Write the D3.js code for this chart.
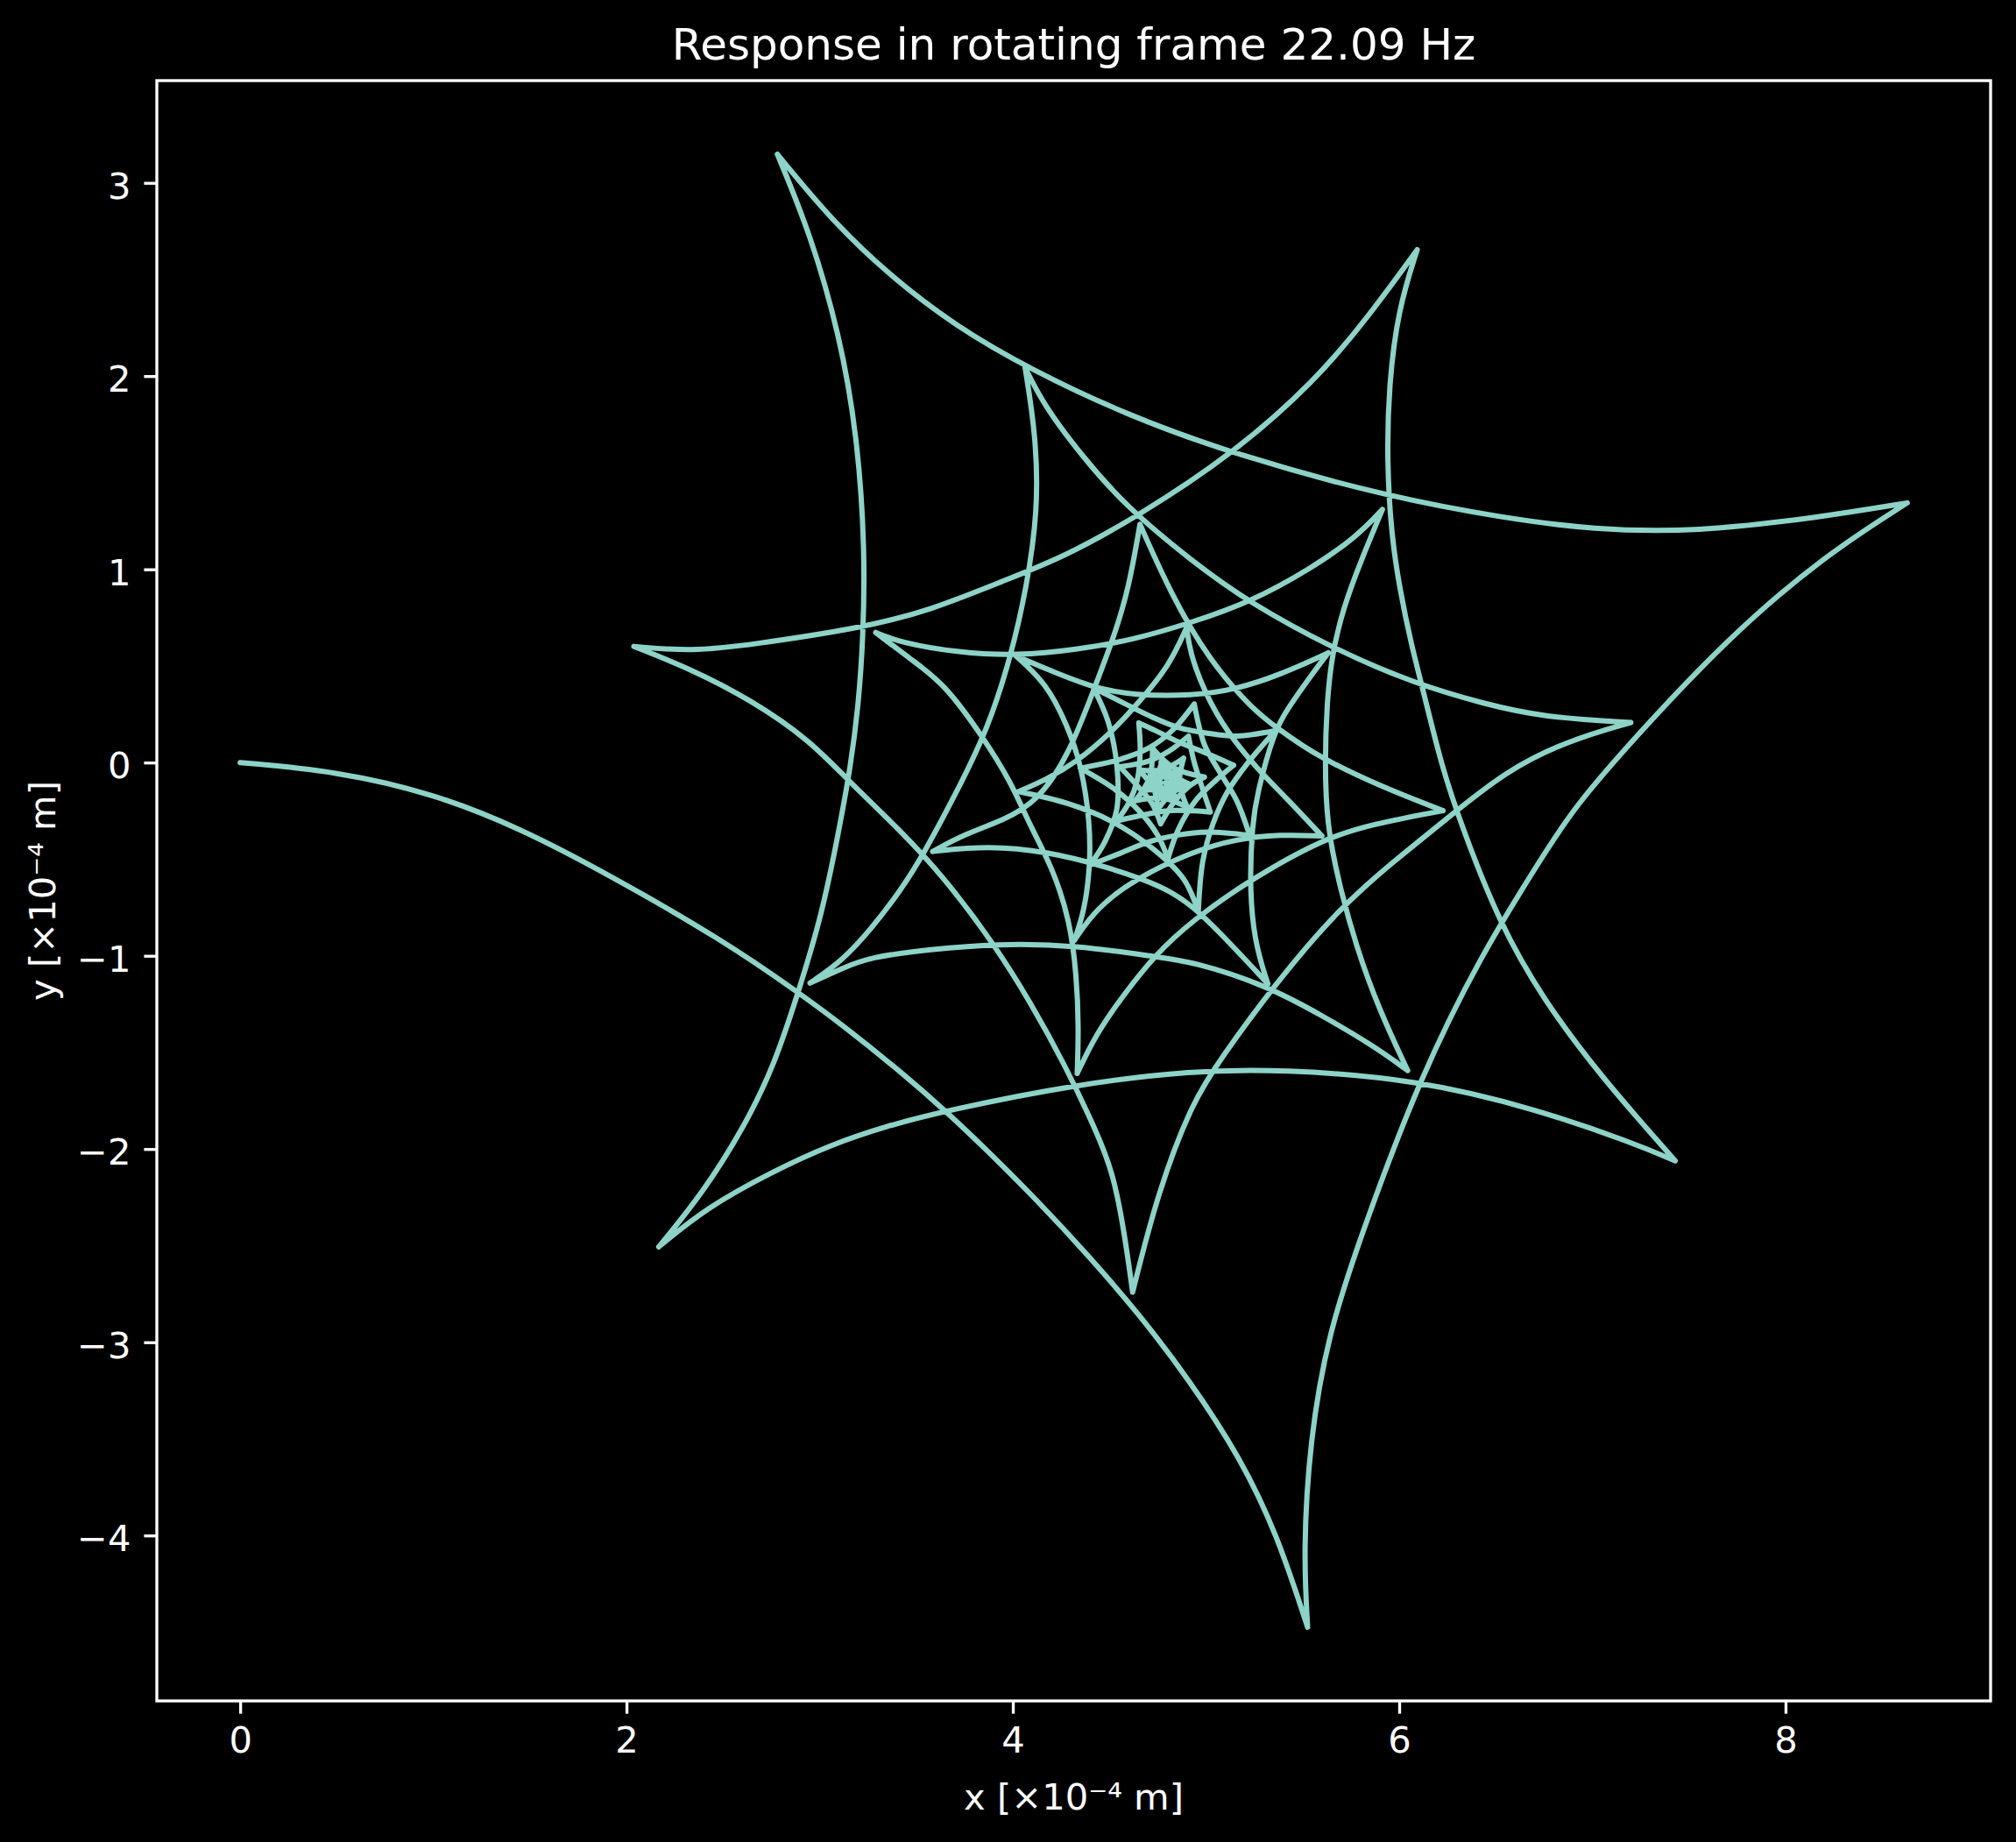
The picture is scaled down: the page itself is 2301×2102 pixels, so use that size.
<!DOCTYPE html>
<html>
<head>
<meta charset="utf-8">
<script src="https://cdn.jsdelivr.net/npm/d3@7"></script>
<style>
  body { margin: 0; background: #000; }
  text { font-family: "DejaVu Sans", sans-serif; fill: #fff; }
</style>
</head>
<body>
<svg width="2301" height="2102"></svg>
<script>
// ---- data (units of 1e-4 m) ----
var titleText = "Response in rotating frame 22.09 Hz",
    xLabel = "x [×10⁻⁴ m]",
    yLabel = "y [×10⁻⁴ m]";

var xTicks = [0, 2, 4, 6, 8],
    xTickLabels = ["0", "2", "4", "6", "8"],
    yTicks = [-4, -3, -2, -1, 0, 1, 2, 3],
    yTickLabels = ["−4", "−3", "−2", "−1", "0", "1", "2", "3"];

var startPoint = [0, 0];

// every arc runs from the previous cusp to the next one (last point = cusp)
var outerArcs = [
  [[0.5,-0.045],[1.0,-0.16],[1.45,-0.34],[1.9,-0.575],[2.5,-0.92],[2.89,-1.19],[3.12,-1.36],[3.42,-1.6],[3.66,-1.81],[3.87,-2.01],[4.13,-2.27],[4.39,-2.55],[4.65,-2.85],[4.91,-3.19],[5.18,-3.6],[5.37,-4.0],[5.526,-4.475]],
  [[5.504,-4.09],[5.536,-3.514],[5.634,-2.941],[5.831,-2.368],[6.1,-1.65],[6.42,-1.0],[6.744,-0.483],[6.9,-0.24],[7.206,0.115],[7.697,0.64],[8.188,1.061],[8.63,1.344]],
  [[8.188,1.271],[7.533,1.192],[7.0,1.205],[6.551,1.265],[5.962,1.37],[5.143,1.595],[4.587,1.8],[4.1,2.03],[3.7,2.26],[3.35,2.53],[3.05,2.82],[2.781,3.148]],
  [[2.95,2.741],[3.103,2.216],[3.195,1.691],[3.235,1.1],[3.225,0.64],[3.2,0.29],[3.16,-0.02],[3.1,-0.35],[3.011,-0.792],[2.888,-1.193],[2.765,-1.566],[2.612,-1.881],[2.397,-2.225],[2.167,-2.506]],
  [[2.42,-2.3],[2.75,-2.12],[3.05,-1.98],[3.35,-1.88],[3.655,-1.8],[4.326,-1.665],[4.93,-1.594],[5.384,-1.587],[6.094,-1.64],[6.715,-1.795],[7.206,-1.967],[7.429,-2.061]],
  [[7.042,-1.623],[6.744,-1.224],[6.518,-0.831],[6.32,-0.32],[6.22,-0.02],[6.13,0.35],[6.06,0.62],[6.004,0.893],[5.96,1.17],[5.936,1.559],[5.946,1.953],[5.995,2.347],[6.093,2.654]],
  [[5.831,2.295],[5.569,1.98],[5.143,1.599],[4.64,1.27],[4.259,1.061],[3.95,0.94],[3.57,0.787],[3.226,0.698],[2.643,0.609],[2.336,0.575],[2.038,0.601]],
  [[2.336,0.483],[2.643,0.325],[2.95,0.115],[3.149,-0.095],[3.41,-0.344],[3.64,-0.589],[3.902,-0.937],[4.099,-1.254],[4.265,-1.556],[4.431,-1.904],[4.522,-2.131],[4.58,-2.45],[4.62,-2.741]],
  [[4.75,-2.225],[4.93,-1.753],[5.081,-1.526],[5.338,-1.171],[5.686,-0.755],[5.988,-0.498],[6.215,-0.317],[6.551,-0.042],[6.878,0.115],[7.199,0.207]]
];

var middleArcs = [
  [[6.744,0.235],[6.442,0.303],[6.079,0.409],[5.656,0.59],[5.217,0.832],[4.93,1.04],[4.587,1.323],[4.358,1.586],[4.161,1.848],[4.063,2.045]],
  [[4.12,1.69],[4.13,1.3],[4.07,0.9],[3.993,0.56],[3.87,0.17],[3.7,-0.17],[3.54,-0.47],[3.418,-0.664],[3.267,-0.861],[3.116,-1.027],[2.95,-1.141]],
  [[3.116,-1.065],[3.257,-1.007],[3.57,-0.967],[3.917,-0.937],[4.326,-0.944],[4.75,-1.007],[4.93,-1.03],[5.307,-1.15],[5.61,-1.314],[5.867,-1.466],[6.044,-1.594]],
  [[5.898,-1.284],[5.777,-0.952],[5.686,-0.619],[5.625,-0.317],[5.615,0.0],[5.625,0.3],[5.65,0.55],[5.71,0.8],[5.8,1.04],[5.913,1.31]],
  [[5.777,1.165],[5.535,0.999],[5.232,0.832],[4.93,0.726],[4.628,0.636],[4.326,0.583],[4.023,0.553],[3.721,0.568],[3.418,0.621],[3.29,0.673]],
  [[3.471,0.535],[3.645,0.409],[3.842,0.137],[3.993,-0.105],[4.084,-0.317],[4.205,-0.543],[4.295,-0.816],[4.33,-1.1],[4.341,-1.375],[4.333,-1.609]],
  [[4.431,-1.405],[4.568,-1.209],[4.734,-0.997],[4.93,-0.816],[5.232,-0.604],[5.61,-0.392],[5.867,-0.317],[6.227,-0.249]],
  [[5.896,-0.121],[5.569,0.036],[5.384,0.167],[5.242,0.273],[5.012,0.535],[4.816,0.877],[4.658,1.233]],
  [[4.6,0.9],[4.52,0.64],[4.42,0.38],[4.29,0.04],[4.13,-0.2],[3.95,-0.3],[3.75,-0.37],[3.585,-0.46]],
  [[3.872,-0.43],[4.174,-0.46],[4.477,-0.536],[4.779,-0.64],[4.93,-0.74],[5.111,-0.92],[5.32,-1.145]],
  [[5.248,-0.921],[5.225,-0.619],[5.24,-0.317],[5.263,-0.166],[5.353,0.167],[5.429,0.288],[5.535,0.439],[5.633,0.568]],
  [[5.384,0.454],[5.157,0.379],[4.93,0.345],[4.628,0.348],[4.416,0.386],[4.174,0.484],[4.016,0.552]],
  [[4.174,0.409],[4.28,0.197],[4.356,-0.015],[4.4,-0.317],[4.4,-0.543],[4.37,-0.77],[4.318,-0.921]],
  [[4.431,-0.755],[4.628,-0.604],[4.93,-0.46],[5.157,-0.395],[5.384,-0.372],[5.6,-0.38]],
  [[5.414,-0.181],[5.263,-0.03],[5.112,0.152],[4.991,0.364],[4.915,0.575],[4.9,0.7]],
  [[4.809,0.5],[4.658,0.318],[4.507,0.152],[4.326,0.0],[4.17,-0.09],[4.03,-0.15]]
];

var innerArcs = [
  [[4.28,-0.211],[4.507,-0.302],[4.734,-0.453],[4.885,-0.604],[4.96,-0.77]],
  [[4.983,-0.513],[5.036,-0.317],[5.112,-0.15],[5.218,0.0],[5.36,0.165]],
  [[5.158,0.137],[5.007,0.152],[4.856,0.182],[4.705,0.243],[4.554,0.318],[4.418,0.386]],
  [[4.493,0.212],[4.538,-0.014],[4.538,-0.241],[4.478,-0.407],[4.4,-0.53]],
  [[4.554,-0.47],[4.705,-0.41],[4.856,-0.375],[5.007,-0.36],[5.226,-0.377]],
  [[5.158,-0.196],[5.068,-0.045],[4.992,0.092],[4.939,0.303]],
  [[4.826,0.167],[4.705,0.076],[4.554,0.016],[4.349,-0.029]],
  [[4.523,-0.135],[4.659,-0.256],[4.75,-0.377],[4.803,-0.498]],
  [[4.856,-0.347],[4.947,-0.196],[5.053,-0.09],[5.143,-0.014]],
  [[5.007,0.046],[4.856,0.107],[4.735,0.167],[4.652,0.205]],
  [[4.659,0.061],[4.644,-0.09],[4.599,-0.211],[4.538,-0.302]],
  [[4.675,-0.271],[4.811,-0.249],[4.916,-0.249],[5.022,-0.256]],
  [[4.977,-0.12],[4.939,0.001],[4.909,0.137]],
  [[4.811,0.061],[4.705,0.008],[4.554,-0.022]],
  [[4.644,-0.12],[4.72,-0.211],[4.765,-0.317]],
  [[4.841,-0.196],[4.916,-0.12],[4.992,-0.075]]
];

// the solid knot in the middle
var coreArcs = [
  [[4.834,-0.028],[4.723,0.074]],
  [[4.708,-0.077],[4.634,-0.198]],
  [[4.776,-0.184],[4.902,-0.231]],
  [[4.863,-0.102],[4.884,0.023]],
  [[4.772,-0.037],[4.653,-0.039]],
  [[4.727,-0.133],[4.752,-0.24]],
  [[4.825,-0.156],[4.918,-0.114]],
  [[4.828,-0.063],[4.773,0.014]],
  [[4.742,-0.076],[4.683,-0.139]],
  [[4.77,-0.152],[4.838,-0.192]],
  [[4.832,-0.112],[4.86,-0.043]],
  [[4.787,-0.062],[4.717,-0.05]],
  [[4.749,-0.114],[4.749,-0.181]],
  [[4.803,-0.14],[4.865,-0.127]],
  [[4.818,-0.085],[4.795,-0.03]],
  [[4.764,-0.081],[4.718,-0.112]],
  [[4.77,-0.132],[4.807,-0.167]],
  [[4.815,-0.116],[4.841,-0.077]],
  [[4.793,-0.078],[4.753,-0.063]],
  [[4.763,-0.105],[4.757,-0.144]],
  [[4.793,-0.128],[4.828,-0.126]],
  [[4.81,-0.11],[4.898,-0.105]],
  [[4.81,-0.078],[4.767,0.003]],
  [[4.757,-0.088],[4.691,-0.144]],
  [[4.777,-0.138],[4.845,-0.193]],
  [[4.823,-0.109],[4.86,-0.036]],
  [[4.785,-0.07],[4.706,-0.048]],
  [[4.754,-0.114],[4.749,-0.192]],
  [[4.804,-0.136],[4.881,-0.126]],
  [[4.816,-0.084],[4.791,-0.015]],
  [[4.762,-0.082],[4.699,-0.119]],
  [[4.77,-0.135],[4.817,-0.185]],
  [[4.821,-0.117],[4.861,-0.061]],
  [[4.793,-0.07],[4.734,-0.046]],
  [[4.753,-0.107],[4.74,-0.169]],
  [[4.796,-0.139],[4.855,-0.138]],
  [[4.81,-0.11],[4.788,-0.105]]
];

// ---- layout ----
var svg = d3.select("svg"),
    margin = {top: 92, right: 29, bottom: 161, left: 179},
    width = +svg.attr("width") - margin.left - margin.right,
    height = +svg.attr("height") - margin.top - margin.bottom,
    g = svg.append("g").attr("transform", "translate(" + margin.left + "," + margin.top + ")");

svg.insert("rect", ":first-child")
    .attr("width", 2301).attr("height", 2102).attr("fill", "#000");

var allArcs = outerArcs.concat(middleArcs, innerArcs, coreArcs);
var smoothCount = outerArcs.length + middleArcs.length;

// chain the arcs: each one starts where the previous one ended
var segments = [];
var prev = startPoint;
allArcs.forEach(function(a) {
  segments.push([prev].concat(a));
  prev = a[a.length - 1];
});

var allPts = [startPoint];
allArcs.forEach(function(a) { allPts = allPts.concat(a); });

// matplotlib-like 5% margins
function padded(ext) {
  var d = (ext[1] - ext[0]) * 0.05;
  return [ext[0] - d, ext[1] + d];
}
var x = d3.scaleLinear()
    .domain(padded(d3.extent(allPts, function(d) { return d[0]; })))
    .range([0, width]);
var y = d3.scaleLinear()
    .domain(padded(d3.extent(allPts, function(d) { return d[1]; })))
    .range([height, 0]);

// long arcs have many read points: a B-spline evens out the reading noise;
// the short inner ones go through their points
var smoothLine = d3.line()
    .curve(d3.curveBasis)
    .x(function(d) { return x(d[0]); })
    .y(function(d) { return y(d[1]); });
var tightLine = d3.line()
    .curve(d3.curveCatmullRom)
    .x(function(d) { return x(d[0]); })
    .y(function(d) { return y(d[1]); });

// one path, one sub-path per arc so the cusps stay sharp
g.append("path")
    .attr("class", "trace")
    .attr("d", segments.map(function(s, i) {
      return i < smoothCount ? smoothLine(s) : tightLine(s);
    }).join(""))
    .attr("fill", "none")
    .attr("stroke", "#8dd3c7")
    .attr("stroke-width", 6)
    .attr("stroke-linecap", "round")
    .attr("stroke-linejoin", "round");

// axes
var tickLen = 14.6, tickPad = 15;

var xAxis = g.append("g")
    .attr("class", "axis axis--x")
    .attr("transform", "translate(0," + height + ")")
    .call(d3.axisBottom(x)
      .tickValues(xTicks)
      .tickFormat(function(d, i) { return xTickLabels[i]; })
      .tickSize(tickLen)
      .tickPadding(tickPad));

var yAxis = g.append("g")
    .attr("class", "axis axis--y")
    .call(d3.axisLeft(y)
      .tickValues(yTicks)
      .tickFormat(function(d, i) { return yTickLabels[i]; })
      .tickSize(tickLen)
      .tickPadding(tickPad));

svg.selectAll(".axis .domain").remove();
svg.selectAll(".axis line").attr("stroke", "#fff").attr("stroke-width", 3.33);
svg.selectAll(".axis text")
    .attr("fill", "#fff")
    .style("font-family", "'DejaVu Sans', sans-serif")
    .style("font-size", "41.67px");
yAxis.selectAll("text").attr("dy", "0.42em");

// frame
g.append("rect")
    .attr("width", width)
    .attr("height", height)
    .attr("fill", "none")
    .attr("stroke", "#fff")
    .attr("stroke-width", 3.33);

// title and labels
svg.append("text")
    .attr("x", margin.left + width / 2)
    .attr("y", 67.5)
    .attr("text-anchor", "middle")
    .style("font-size", "50px")
    .text(titleText);

svg.append("text")
    .attr("x", margin.left + width / 2)
    .attr("y", 2065)
    .attr("text-anchor", "middle")
    .style("font-size", "41.67px")
    .text(xLabel);

svg.append("text")
    .attr("transform", "translate(63," + (margin.top + height / 2) + ") rotate(-90)")
    .attr("text-anchor", "middle")
    .style("font-size", "41.67px")
    .text(yLabel);
</script>
</body>
</html>
